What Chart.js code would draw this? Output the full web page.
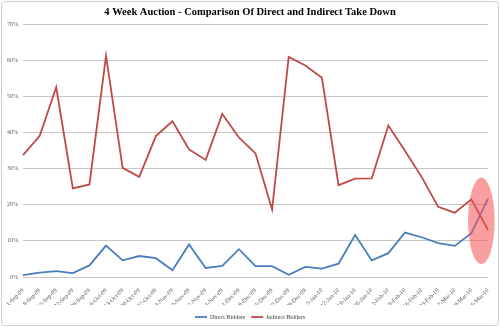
<!DOCTYPE html>
<html>
<head>
<meta charset="utf-8">
<script src="https://cdn.jsdelivr.net/npm/chart.js@4"></script>
<style>
  body { margin: 0; background: #fff; }
</style>
</head>
<body>
<canvas id="auction-chart" width="500" height="327"></canvas>
<script>
const weeks = ['1-Sep-09', '8-Sep-09', '15-Sep-09', '22-Sep-09', '29-Sep-09', '6-Oct-09', '13-Oct-09',
    '20-Oct-09', '27-Oct-09', '3-Nov-09', '10-Nov-09', '17-Nov-09', '24-Nov-09', '1-Dec-09', '8-Dec-09',
    '15-Dec-09', '22-Dec-09', '29-Dec-09', '5-Jan-10', '12-Jan-10', '19-Jan-10', '26-Jan-10', '2-Feb-10',
    '9-Feb-10', '16-Feb-10', '23-Feb-10', '2-Mar-10', '9-Mar-10', '16-Mar-10']

// percent of the auction taken down
const directBidders = [0.5, 1.2, 1.6, 1.1, 3.2, 8.7, 4.6, 5.8, 5.2, 1.9, 9.0, 2.5, 3.1, 7.7, 3.0,
    3.0, 0.6, 2.8, 2.3, 3.7, 11.6, 4.6, 6.6, 12.3, 11.0, 9.4, 8.6, 12.1, 21.7]
const indirectBidders = [33.7, 39.0, 52.5, 24.5, 25.6, 61.2, 30.2, 27.7, 39.0, 43.1, 35.3, 32.4, 45.1, 38.6, 34.2,
    18.7, 60.9, 58.5, 55.1, 25.4, 27.2, 27.3, 41.9, 34.9, 27.7, 19.4, 17.8, 21.5, 13.0]

const yMax = 70
const yStep = 10

const serif = 'Liberation Serif, Times New Roman, serif'

// grey frame round the whole chart, like the excel chart area
const framePlugin = {
    id: 'frame',
    beforeDraw: (chart) => {
        const ctx = chart.ctx
        ctx.save()
        ctx.fillStyle = '#fff'
        ctx.fillRect(0, 0, chart.width, chart.height)
        ctx.strokeStyle = '#cfcfcf'
        ctx.lineWidth = 1
        ctx.beginPath()
        ctx.roundRect(1.5, 1.5, chart.width - 3, chart.height - 3, 3)
        ctx.stroke()
        ctx.restore()
    }
}

// excel centres title and legend on the whole chart, and the legend sits a bit lower
const blockShift = {
    id: 'blockShift',
    afterLayout: (chart) => {
        const dx = 6
        if (chart.titleBlock) {
            chart.titleBlock.left += dx
            chart.titleBlock.right += dx
        }
        if (chart.legend) {
            chart.legend.left += dx
            chart.legend.right += dx
            chart.legend.top += 3
            chart.legend.bottom += 3
        }
    }
}

// the pink highlight round the last week
const highlightPlugin = {
    id: 'highlight',
    afterDatasetsDraw: (chart) => {
        const x = chart.scales.x
        const y = chart.scales.y
        const step = x.getPixelForValue(1) - x.getPixelForValue(0)
        const cx = x.getPixelForValue(weeks.length - 1 - 0.4)
        const cy = y.getPixelForValue(15.5)
        const ry = Math.abs(y.getPixelForValue(12) - y.getPixelForValue(0))
        const ctx = chart.ctx
        ctx.save()
        ctx.fillStyle = 'rgba(244, 80, 80, 0.55)'
        ctx.beginPath()
        ctx.ellipse(cx, cy, step * 0.8, ry, 0, 0, Math.PI * 2)
        ctx.fill()
        ctx.restore()
    }
}

let chart = null

const drawChart = () => {
    if (chart) chart.destroy()

    chart = new Chart(document.getElementById('auction-chart'), {
        type: 'line',
        data: {
            labels: weeks,
            datasets: [{
                label: 'Direct Bidders',
                data: directBidders,
                borderColor: '#4a7ebb',
                backgroundColor: '#4a7ebb',
                borderWidth: 1.8,
                pointRadius: 0,
                tension: 0
            }, {
                label: 'Indirect Bidders',
                data: indirectBidders,
                borderColor: '#be4b48',
                backgroundColor: '#be4b48',
                borderWidth: 1.8,
                pointRadius: 0,
                tension: 0
            }]
        },
        options: {
            responsive: false,
            animation: false,
            layout: { padding: { left: 0, right: 12, top: 0, bottom: 0 } },
            plugins: {
                title: {
                    display: true,
                    text: '4 Week Auction - Comparison Of Direct and Indirect Take Down',
                    color: '#000',
                    font: { family: serif, size: 10.5, weight: 'bold', lineHeight: 1.2 },
                    padding: { top: 5.5, bottom: 5.9 }
                },
                legend: {
                    position: 'bottom',
                    labels: {
                        usePointStyle: true,
                        pointStyle: 'line',
                        pointStyleWidth: 12,
                        padding: 6,
                        color: '#404040',
                        font: { family: serif, size: 6 }
                    }
                },
                tooltip: { enabled: false }
            },
            scales: {
                x: {
                    grid: { display: false },
                    border: { display: false },
                    ticks: {
                        autoSkip: false,
                        maxRotation: 45,
                        minRotation: 45,
                        padding: 2,
                        color: '#595959',
                        font: { family: serif, size: 6 }
                    },
                    afterFit: (scale) => { scale.height = 28 }
                },
                y: {
                    min: 0,
                    max: yMax,
                    grid: { color: '#c6c6c6', lineWidth: 1, drawTicks: false },
                    border: { display: false },
                    ticks: {
                        stepSize: yStep,
                        padding: 5,
                        color: '#595959',
                        font: { family: serif, size: 6 },
                        callback: (v) => v + '%'
                    },
                    afterFit: (scale) => { scale.width = 23 }
                }
            }
        },
        plugins: [framePlugin, blockShift, highlightPlugin]
    })
}

try {
    drawChart()
} catch (e) {
    console.log(e)
}
</script>
</body>
</html>
